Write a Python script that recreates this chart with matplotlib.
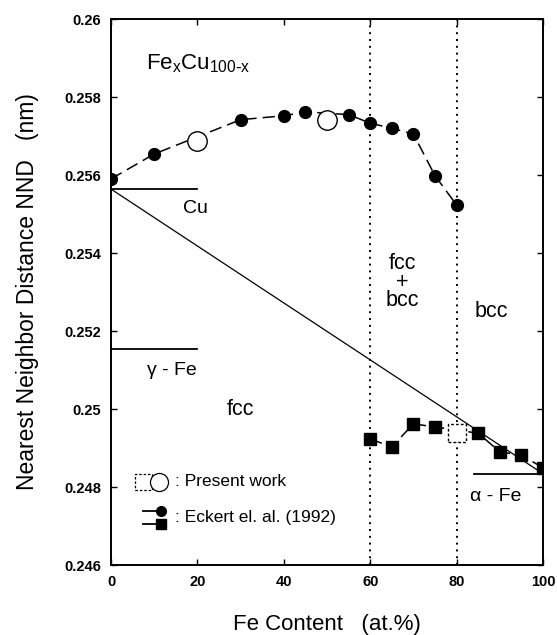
import matplotlib
matplotlib.use("Agg")
import matplotlib.pyplot as plt

plt.rcParams['font.family'] = ['Liberation Sans', 'DejaVu Sans']

# Eckert et al. (1992): fcc NND (circles)
eck_circ_x = [0, 10, 30, 40, 45, 55, 60, 65, 70, 75, 80]
eck_circ_y = [0.2559, 0.25654, 0.25742, 0.25752, 0.25762, 0.25755, 0.25733, 0.2572, 0.25705, 0.25598, 0.25523]
# Eckert et al. (1992): bcc NND (squares)
eck_sq_x = [60, 65, 70, 75, 85, 90, 95, 100]
eck_sq_y = [0.24923, 0.24903, 0.24962, 0.24954, 0.24938, 0.2489, 0.24882, 0.24849]
# Present work
pw_circ_x = [20, 50]
pw_circ_y = [0.25688, 0.25742]
pw_sq_x = [80]
pw_sq_y = [0.24938]
# Reference values
cu_nnd = 0.25564
gfe_nnd = 0.25154
afe_nnd = 0.24834
phase_bounds = [60, 80]

xticks = [0, 20, 40, 60, 80, 100]
yticks = [0.246, 0.248, 0.25, 0.252, 0.254, 0.256, 0.258, 0.26]
ytick_labels = ['0.246', '0.248', '0.25', '0.252', '0.254', '0.256', '0.258', '0.26']

fig = plt.figure(figsize=(5.57, 6.35), dpi=100)
ax = fig.add_axes([0.1993, 0.1102, 0.7757, 0.8598])

# Vegard's line
ax.plot([0, 100], [cu_nnd, afe_nnd], color='black', lw=0.9)
# reference horizontal lines
ax.plot([0, 20], [cu_nnd, cu_nnd], color='black', lw=1.3)
ax.plot([0, 20], [gfe_nnd, gfe_nnd], color='black', lw=1.3)
ax.plot([84, 100], [afe_nnd, afe_nnd], color='black', lw=1.3)
for b in phase_bounds:
    ax.axvline(b, color='black', lw=1.4, ls=(0, (1, 2.5)))

ax.plot(eck_circ_x, eck_circ_y, color='black', lw=1.1, ls=(0, (8, 4)),
        marker='o', ms=8.5, mfc='black', mec='black')
ax.plot(eck_sq_x, eck_sq_y, color='black', lw=1.1, ls=(0, (8, 4)),
        marker='s', ms=8, mfc='black', mec='black')
ax.plot(pw_circ_x, pw_circ_y, ls='none', marker='o', ms=14, mfc='white',
        mec='black', mew=1.0, zorder=4)
ax.scatter(pw_sq_x, pw_sq_y, marker='s', s=13**2, facecolor='white',
           edgecolor='black', linewidths=1.0, linestyles=(0, (2, 1.5)), zorder=4)

# texts
ax.text(8, 0.25885, r'Fe$_\mathregular{x}$Cu$_\mathregular{100\text{-}x}$', fontsize=16, va='center')
ax.text(19.5, 0.25515, 'Cu', fontsize=14, ha='center', va='center')
ax.text(14, 0.2510, 'γ - Fe', fontsize=14, ha='center', va='center')
ax.text(30, 0.2500, 'fcc', fontsize=15.5, ha='center', va='center')
ax.text(67.5, 0.25325, 'fcc\n+\nbcc', fontsize=15.5, ha='center', va='center', linespacing=0.85)
ax.text(88, 0.2525, 'bcc', fontsize=15.5, ha='center', va='center')
ax.text(89, 0.24775, 'α - Fe', fontsize=14, ha='center', va='center')

# legend
ax.scatter([7.5], [0.24813], marker='s', s=12**2, facecolor='white',
           edgecolor='black', linewidths=0.9, linestyles=(0, (2, 1.5)))
ax.plot([11.2], [0.24813], marker='o', ms=13, mfc='white', mec='black', mew=0.9, ls='none')
ax.text(14.8, 0.24813, ': Present work', fontsize=12.5, va='center')
ax.plot([7.5, 11.5], [0.24738, 0.24738], color='black', lw=1.3)
ax.plot([11.5], [0.24738], marker='o', ms=7, mfc='black', mec='black', ls='none')
ax.plot([7.5, 11.5], [0.24705, 0.24705], color='black', lw=1.3)
ax.plot([11.5], [0.24705], marker='s', ms=7, mfc='black', mec='black', ls='none')
ax.text(14.8, 0.24723, ': Eckert el. al. (1992)', fontsize=12.5, va='center')

ax.set_xlim(0, 100)
ax.set_ylim(0.246, 0.26)
ax.set_xticks(xticks)
ax.set_xticklabels([str(t) for t in xticks], fontsize=10.5, fontweight='bold')
ax.set_yticks(yticks)
ax.set_yticklabels(ytick_labels, fontsize=10.5, fontweight='bold')
ax.tick_params(direction='in', top=True, right=True, length=4, width=1, pad=7)
for s in ax.spines.values():
    s.set_linewidth(1.4)

ax.set_xlabel('Fe Content   (at.%)', fontsize=16, labelpad=18)
ax.set_ylabel('Nearest Neighbor Distance NND   (nm)', fontsize=16.5, labelpad=18)

fig.savefig('out.png', dpi=100)
